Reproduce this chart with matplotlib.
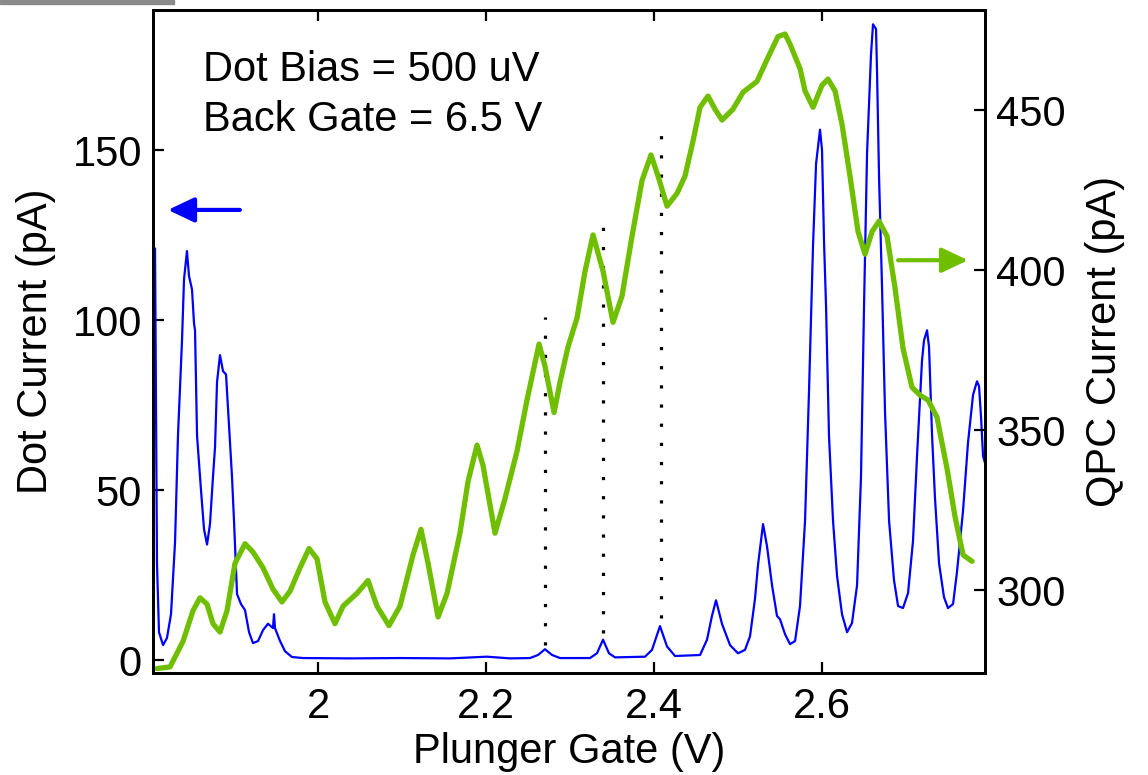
# dot current and QPC current vs plunger gate

import numpy as np
import matplotlib
matplotlib.use("Agg")
import matplotlib.pyplot as plt
import matplotlib.patches as mpatches

plt.rcParams['font.family'] = ['Liberation Sans', 'DejaVu Sans']

# dot current (left axis, pA)
dot_v = [1.8060, 1.8071, 1.8083, 1.8107, 1.8155, 1.8202, 1.8250, 1.8298, 1.8333,
         1.8381, 1.8405, 1.8440, 1.8464, 1.8500, 1.8524, 1.8536, 1.8560, 1.8607,
         1.8643, 1.8679, 1.8714, 1.8750, 1.8774, 1.8798, 1.8833, 1.8869, 1.8905,
         1.8940, 1.8976, 1.9000, 1.9036, 1.9083, 1.9131, 1.9179, 1.9226, 1.9286,
         1.9345, 1.9405, 1.9464, 1.9476, 1.9488, 1.9548, 1.9607, 1.9690, 1.9821,
         2.0381, 2.0976, 2.1571, 2.2012, 2.2286, 2.2524, 2.2619, 2.2702, 2.2786,
         2.2881, 2.3238, 2.3321, 2.3393, 2.3464, 2.3536, 2.3893, 2.3976, 2.4071,
         2.4155, 2.4250, 2.4548, 2.4631, 2.4690, 2.4738, 2.4810, 2.4905, 2.5000,
         2.5083, 2.5143, 2.5202, 2.5238, 2.5298, 2.5345, 2.5405, 2.5464, 2.5500,
         2.5560, 2.5619, 2.5679, 2.5738, 2.5798, 2.5845, 2.5893, 2.5929, 2.5952,
         2.5976, 2.6000, 2.6024, 2.6048, 2.6083, 2.6131, 2.6179, 2.6238, 2.6298,
         2.6357, 2.6417, 2.6464, 2.6500, 2.6536, 2.6583, 2.6607, 2.6643, 2.6655,
         2.6679, 2.6714, 2.6750, 2.6798, 2.6857, 2.6905, 2.6964, 2.7024, 2.7083,
         2.7131, 2.7190, 2.7214, 2.7250, 2.7274, 2.7310, 2.7345, 2.7393, 2.7452,
         2.7500, 2.7560, 2.7607, 2.7679, 2.7738, 2.7798, 2.7845, 2.7869, 2.7893,
         2.7917, 2.7940]
dot_i = [121.0, 79.0, 28.5, 8.2, 4.4, 6.5, 13.5, 34.7, 66.0,
         94.0, 112.0, 120.3, 113.0, 109.0, 99.0, 97.0, 66.0, 50.0,
         38.5, 34.0, 40.0, 54.0, 62.6, 81.8, 89.7, 85.0, 84.0,
         69.0, 54.0, 41.0, 19.4, 16.5, 14.7, 8.2, 5.0, 5.6,
         8.8, 10.7, 9.4, 13.5, 9.4, 5.6, 2.6, 0.9, 0.6,
         0.5, 0.6, 0.5, 1.0, 0.5, 0.6, 1.5, 3.2, 1.5,
         0.6, 0.6, 2.0, 6.0, 2.0, 0.8, 1.0, 3.0, 10.0,
         4.0, 1.2, 1.5, 6.0, 13.0, 17.6, 10.6, 4.4, 2.0,
         3.0, 7.0, 18.0, 28.0, 40.0, 33.5, 22.0, 13.0, 12.0,
         7.6, 4.7, 5.6, 15.9, 41.0, 79.0, 122.0, 146.0, 151.0,
         156.0, 150.0, 123.0, 104.0, 66.0, 41.0, 24.7, 13.5, 8.2,
         10.9, 22.0, 54.0, 104.0, 149.0, 178.0, 187.0, 185.6, 173.0,
         142.0, 110.0, 73.0, 41.0, 23.5, 15.9, 15.3, 19.7, 35.0,
         60.0, 88.0, 94.0, 97.0, 92.0, 66.0, 47.6, 28.5, 18.5,
         15.3, 16.5, 26.0, 44.0, 64.0, 78.0, 82.0, 80.6, 71.5,
         60.0, 58.0]

# QPC current (right axis, pA)
qpc_v = [1.8083, 1.8238, 1.8393, 1.8512, 1.8595, 1.8679, 1.8750, 1.8833, 1.8917,
         1.9012, 1.9131, 1.9226, 1.9345, 1.9464, 1.9571, 1.9667, 1.9786, 1.9893,
         1.9988, 2.0083, 2.0202, 2.0298, 2.0464, 2.0595, 2.0702, 2.0845, 2.0976,
         2.1131, 2.1226, 2.1310, 2.1429, 2.1536, 2.1690, 2.1786, 2.1893, 2.1964,
         2.2107, 2.2226, 2.2369, 2.2488, 2.2631, 2.2702, 2.2810, 2.2881, 2.2976,
         2.3083, 2.3179, 2.3274, 2.3393, 2.3512, 2.3619, 2.3738, 2.3857, 2.3964,
         2.4048, 2.4155, 2.4274, 2.4369, 2.4464, 2.4548, 2.4643, 2.4726, 2.4810,
         2.4940, 2.5060, 2.5226, 2.5345, 2.5476, 2.5560, 2.5619, 2.5738, 2.5798,
         2.5893, 2.6000, 2.6071, 2.6155, 2.6238, 2.6333, 2.6429, 2.6512, 2.6595,
         2.6679, 2.6774, 2.6869, 2.6964, 2.7071, 2.7167, 2.7262, 2.7369, 2.7488,
         2.7583, 2.7679, 2.7786]
qpc_i = [275.5, 276.0, 284.0, 293.6, 297.6, 295.6, 289.5, 286.9, 293.6,
         308.4, 314.5, 311.9, 307.0, 300.3, 296.3, 299.7, 307.0, 313.0,
         309.8, 296.3, 289.5, 295.0, 299.0, 303.0, 295.0, 288.9, 295.0,
         311.0, 319.0, 308.4, 291.6, 299.0, 317.8, 334.0, 345.3, 339.0,
         317.8, 328.6, 343.4, 359.4, 376.9, 370.0, 355.5, 365.0, 376.0,
         385.0, 399.7, 411.0, 399.7, 383.7, 391.9, 410.6, 428.0, 436.0,
         429.4, 420.0, 424.0, 429.4, 440.3, 450.9, 454.4, 450.3, 446.9,
         450.3, 455.6, 459.0, 465.8, 473.0, 473.8, 470.6, 463.0, 456.0,
         450.9, 457.8, 459.7, 456.0, 445.6, 429.4, 412.0, 405.0, 412.0,
         415.3, 410.6, 394.4, 375.6, 363.4, 360.9, 359.4, 354.0, 338.0,
         323.0, 311.0, 309.0]

# dotted markers: gate position, bottom and top in dot-current units
mark_v = [2.27, 2.339, 2.408]
mark_lo = [4.5, 8.0, 12.5]
mark_hi = [101.0, 130.0, 156.0]

blue = '#0000ff'
green = '#70be00'

fig = plt.figure(figsize=(11.48, 7.75), dpi=100)
ax = fig.add_axes([0.1333, 0.1316, 0.7247, 0.8555])
ax2 = ax.twinx()

ax.plot(dot_v, dot_i, color=blue, lw=1.6, zorder=2)
for v, lo, hi in zip(mark_v, mark_lo, mark_hi):
    ax.plot([v, v], [lo, hi], color='black', lw=2.3, ls=(0, (1, 5)), zorder=1)
ax2.plot(qpc_v, qpc_i, color=green, lw=3.8, solid_joinstyle='round', solid_capstyle='round')

ax.set_xlim(1.8036, 2.794)
ax.set_ylim(-3.8, 191.2)
ax2.set_ylim(274.1, 481.3)

ax.set_xticks([2.0, 2.2, 2.4, 2.6])
ax.set_xticklabels(['2', '2.2', '2.4', '2.6'])
ax.set_yticks([0, 50, 100, 150])
ax2.set_yticks([300, 350, 400, 450])

ax.tick_params(axis='x', direction='in', top=True, length=8, width=1.6, labelsize=30, pad=10)
ax.tick_params(axis='y', direction='in', right=False, length=8, width=1.6, labelsize=30, pad=8)
ax2.tick_params(axis='y', direction='in', length=8, width=1.6, labelsize=30, pad=8)
ax2.tick_params(axis='x', top=False, bottom=False)

for a in (ax, ax2):
    for s in a.spines.values():
        s.set_linewidth(2.0)

ax.set_xlabel('Plunger Gate (V)', fontsize=30, labelpad=4)
ax.set_ylabel('Dot Current (pA)', fontsize=30, labelpad=12)
ax2.set_ylabel('QPC Current (pA)', fontsize=30, labelpad=14)

ax.text(0.06, 0.909, 'Dot Bias = 500 uV', transform=ax.transAxes, fontsize=30, va='center')
ax.text(0.06, 0.834, 'Back Gate = 6.5 V', transform=ax.transAxes, fontsize=30, va='center')

# axis pointer arrows
ax.annotate('', xy=(1.8214, 132.4), xytext=(1.907, 132.4),
            arrowprops=dict(arrowstyle='-|>,head_length=0.8,head_width=0.38', lw=3,
                            color=blue, mutation_scale=20, shrinkA=0, shrinkB=0))
ax2.annotate('', xy=(2.7738, 403.1), xytext=(2.6905, 403.1),
             arrowprops=dict(arrowstyle='-|>,head_length=0.8,head_width=0.38', lw=3,
                             color=green, mutation_scale=20, shrinkA=0, shrinkB=0))

# grey strip left over at the top-left corner
fig.patches.append(mpatches.Rectangle((0, 0.995), 0.152, 0.005, transform=fig.transFigure,
                                      color='#8a8a8a', zorder=0))

fig.savefig('out.png', dpi=100)
